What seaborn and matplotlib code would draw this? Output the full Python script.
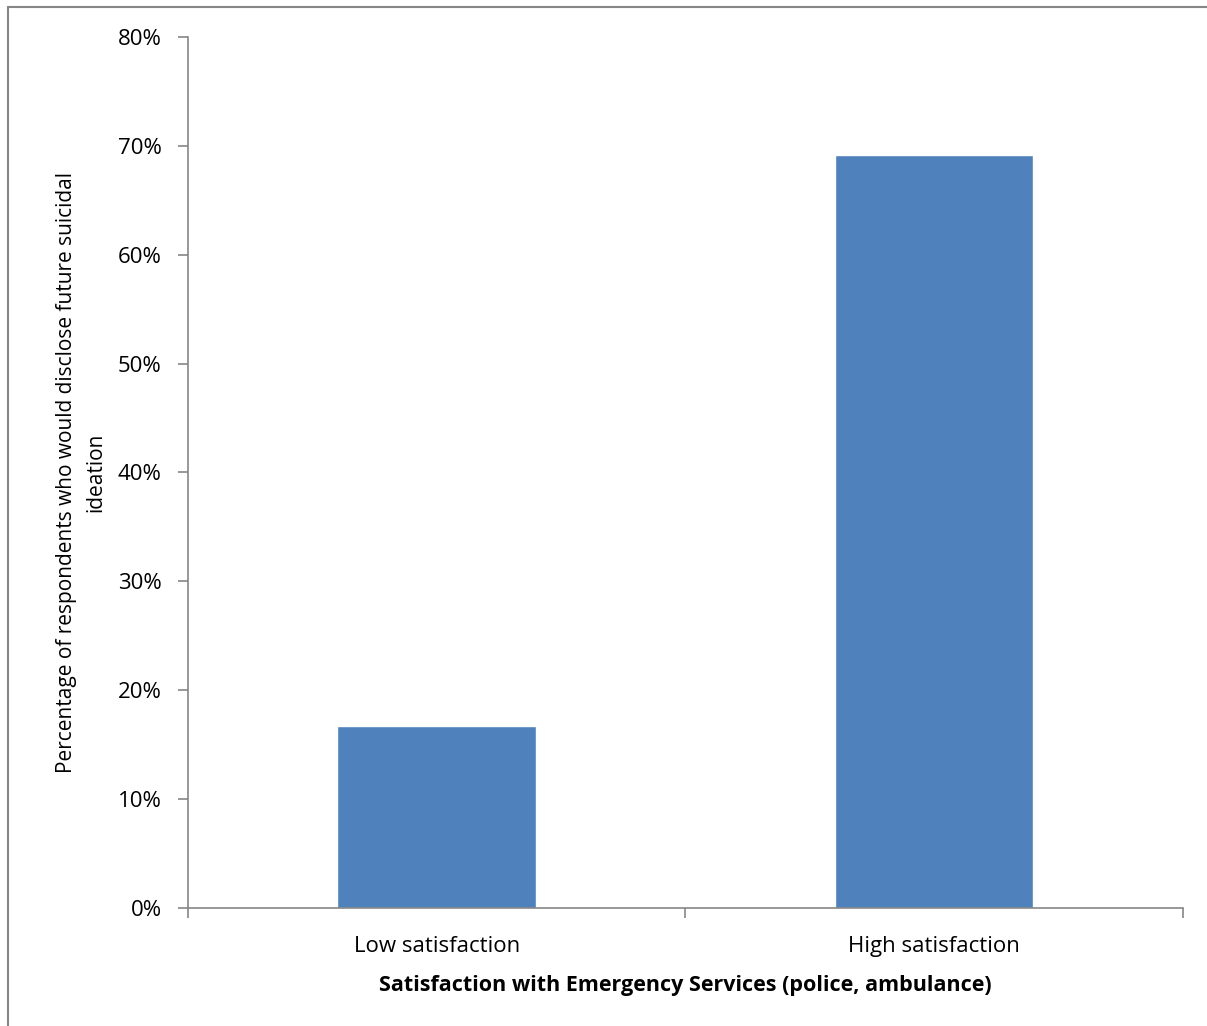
import matplotlib
matplotlib.use("Agg")
import matplotlib.pyplot as plt
from matplotlib.ticker import PercentFormatter, FixedLocator
import seaborn as sns
import pandas as pd

# Data
categories = ["Low satisfaction", "High satisfaction"]
values = [16.7, 69.2]

df = pd.DataFrame({"group": categories, "pct": values})

sns.set_style("white")
plt.rcParams['font.family'] = ['Open Sans', 'DejaVu Sans']
plt.rcParams['text.color'] = 'black'
plt.rcParams['axes.labelcolor'] = 'black'
plt.rcParams['xtick.labelcolor'] = 'black'
plt.rcParams['ytick.labelcolor'] = 'black'

fig = plt.figure(figsize=(12.07, 10.26), dpi=100)
ax = fig.add_axes([0.1558, 0.115, 0.824, 0.849])

sns.barplot(data=df, x="group", y="pct", color="#4F81BD", width=0.4,
            saturation=1, ax=ax)

ax.set_xlim(-0.5, 1.5)
ax.set_ylim(0, 80)
ax.yaxis.set_major_locator(FixedLocator(range(0, 81, 10)))
ax.yaxis.set_major_formatter(PercentFormatter(decimals=0))

grey = "#868686"
for s in ["top", "right"]:
    ax.spines[s].set_visible(False)
for s in ["left", "bottom"]:
    ax.spines[s].set_color(grey)
    ax.spines[s].set_linewidth(1.2)

# category boundary ticks like Excel
ax.xaxis.set_minor_locator(FixedLocator([-0.5, 0.5, 1.5]))
ax.tick_params(axis="x", which="major", length=0, pad=20, labelsize=16)
ax.tick_params(axis="x", which="minor", length=7, width=1.2, color=grey, direction="out", bottom=True)
ax.tick_params(axis="y", length=7, width=1.2, color=grey, direction="out", left=True, pad=12, labelsize=16)

ax.set_ylabel("Percentage of respondents who would disclose future suicidal\nideation",
              fontsize=15, labelpad=8, linespacing=1.55)
ax.set_xlabel("Satisfaction with Emergency Services (police, ambulance)",
              fontsize=15.5, fontweight="bold", labelpad=13)

# outer chart border (left and top visible)
fig.add_artist(plt.Line2D([8 / 1207, 8 / 1207], [0, 1 - 7 / 1026], color=grey, lw=1.5))
fig.add_artist(plt.Line2D([8 / 1207, 1], [1 - 7 / 1026, 1 - 7 / 1026], color=grey, lw=1.5))

fig.savefig("out.png", dpi=100)
